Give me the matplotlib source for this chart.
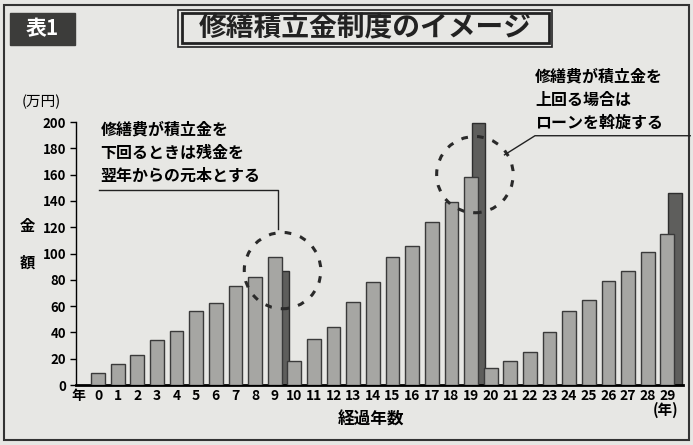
import numpy as np
import matplotlib.pyplot as plt
from matplotlib.patches import Ellipse, Rectangle

plt.rcParams['font.family'] = ['Noto Sans CJK JP', 'DejaVu Sans']

# data (万円)
years = list(range(30))
reserve = [9, 16, 23, 34, 41, 56, 62, 75, 82, 97,
           18, 35, 44, 63, 78, 97, 106, 124, 139, 158,
           13, 18, 25, 40, 56, 65, 79, 87, 101, 115]
repair_years = [9, 19, 29]
repair = [87, 199, 146]
yticks = list(range(0, 201, 20))

bg = '#e7e7e4'
fig = plt.figure(figsize=(6.93, 4.45), dpi=100, facecolor=bg)
ax = fig.add_axes([0.1097, 0.1348, 0.8759, 0.591])
ax.set_facecolor(bg)

x = np.array(years)
ax.bar(np.array(repair_years) + 0.38, repair, width=0.7, color='#5e5e5c',
       edgecolor='#2e2e2e', linewidth=1.0, zorder=2, clip_on=False)
ax.bar(x, reserve, width=0.7, color='#a6a6a3', edgecolor='#3a3a3a',
       linewidth=1.0, zorder=3)

ax.set_xlim(-1.12, 29.8)
ax.set_ylim(0, 200)
ax.set_yticks(yticks)
ax.set_xticks(years)
ax.set_xticklabels([str(y) for y in years], fontsize=10, fontweight='bold')
ax.tick_params(axis='x', length=0, pad=3)
ax.tick_params(axis='y', length=4, width=1, pad=3, labelsize=9.5)
for t in ax.get_yticklabels():
    t.set_fontweight('bold')
for s in ['top', 'right']:
    ax.spines[s].set_visible(False)
ax.spines['left'].set_linewidth(1.0)
ax.spines['bottom'].set_linewidth(2.0)

# axis texts
ax.text(-1.0, -3, '年', transform=ax.transData, ha='center', va='top',
        fontsize=10, fontweight='bold')
fig.text(0.06, 0.77, '(万円)', ha='center', va='center', fontsize=10.5)
fig.text(0.04, 0.493, '金', ha='center', va='center', fontsize=11, fontweight='bold')
fig.text(0.04, 0.41, '額', ha='center', va='center', fontsize=11, fontweight='bold')
fig.text(0.535, 0.058, '経過年数', ha='center', va='center', fontsize=12, fontweight='bold')
fig.text(0.96, 0.078, '(年)', ha='center', va='center', fontsize=10.5, fontweight='bold')

# dashed circles
ax.add_patch(Ellipse((9.4, 87), 3.9, 58, fill=False, ls=(0, (2.2, 3)),
                     lw=2.2, ec='#2a2a2a', zorder=4))
ax.add_patch(Ellipse((19.2, 160), 3.9, 58, fill=False, ls=(0, (2.2, 3)),
                     lw=2.2, ec='#2a2a2a', zorder=4))

# callout 1
fig.text(0.145, 0.657, '修繕費が積立金を\n下回るときは残金を\n翌年からの元本とする',
         ha='left', va='center', fontsize=11.5, fontweight='bold', linespacing=1.55)
fig.add_artist(plt.Line2D([0.143, 0.401, 0.401], [0.572, 0.572, 0.485],
                          color='#222', lw=1.0))
# callout 2
fig.text(0.772, 0.776, '修繕費が積立金を\n上回る場合は\nローンを斡旋する',
         ha='left', va='center', fontsize=11.5, fontweight='bold', linespacing=1.55)
fig.add_artist(plt.Line2D([0.996, 0.772, 0.728], [0.695, 0.695, 0.652],
                          color='#222', lw=1.0))

# title
fig.add_artist(Rectangle((0.015, 0.9), 0.093, 0.07, transform=fig.transFigure,
                         fc='#3c3c3a', ec='#3c3c3a'))
fig.text(0.0615, 0.935, '表1', ha='center', va='center', fontsize=15,
         fontweight='bold', color='white')
fig.add_artist(Rectangle((0.257, 0.895), 0.54, 0.083, transform=fig.transFigure,
                         fc='none', ec='#222', lw=1.2))
fig.add_artist(Rectangle((0.262, 0.903), 0.53, 0.067, transform=fig.transFigure,
                         fc='none', ec='#222', lw=2.0))
fig.text(0.527, 0.937, '修繕積立金制度のイメージ', ha='center', va='center',
         fontsize=20, fontweight='bold', color='#222')

# outer frame
fig.add_artist(Rectangle((0.006, 0.012), 0.988, 0.976, transform=fig.transFigure,
                         fc='none', ec='#333', lw=1.5))

fig.savefig('out.png', dpi=100, facecolor=bg)
